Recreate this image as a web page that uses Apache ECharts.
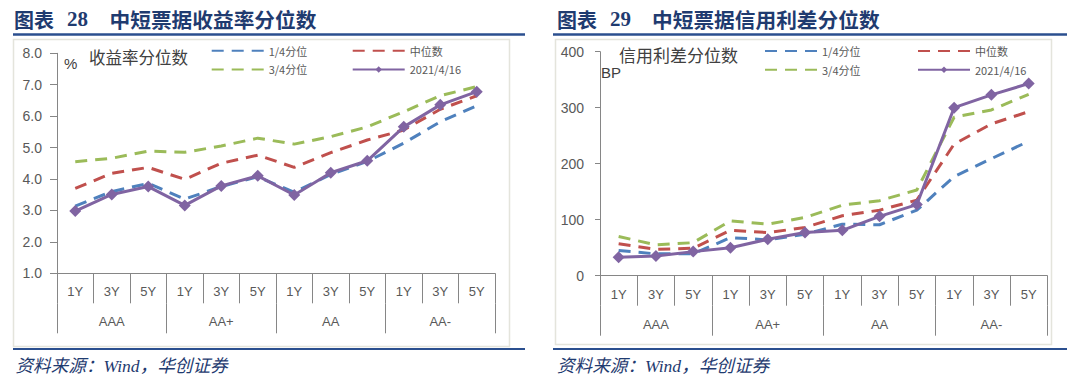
<!DOCTYPE html>
<html>
<head>
<meta charset="utf-8">
<script src="https://cdn.jsdelivr.net/npm/echarts@6/dist/echarts.min.js"></script>
<style>
html,body{margin:0;padding:0;background:#fff;}
#c{width:1080px;height:381px;}
</style>
</head>
<body>
<div id="c"></div>
<script>
// ---- data ----
const categories = ['1Y','3Y','5Y','1Y','3Y','5Y','1Y','3Y','5Y','1Y','3Y','5Y'];
const groups = ['AAA','AA+','AA','AA-'];
const seriesNames = ['1/4分位','中位数','3/4分位','2021/4/16'];

const yieldQ1  = [3.14,3.60,3.86,3.36,3.76,4.07,3.58,4.14,4.56,5.14,5.82,6.33];
const yieldMed = [3.70,4.18,4.37,3.99,4.50,4.76,4.37,4.84,5.24,5.56,6.22,6.65];
const yieldQ3  = [4.55,4.66,4.89,4.85,5.05,5.30,5.11,5.35,5.66,6.14,6.65,6.94];
const yieldNow = [2.98,3.51,3.76,3.16,3.78,4.10,3.49,4.20,4.58,5.66,6.36,6.78];

const spreadQ1  = [45,39,39,68,64,74,92,91,117,177,209,240];
const spreadMed = [57,47,49,81,77,86,107,117,135,235,271,293];
const spreadQ3  = [70,55,59,98,92,104,126,134,153,283,296,324];
const spreadNow = [33,35,43,50,65,77,81,106,127,300,323,343];

const leftTitle = ['图表','28','中短票据收益率分位数'];
const rightTitle = ['图表','29','中短票据信用利差分位数'];
const leftAxisName = '收益率分位数';
const rightAxisName = '信用利差分位数';
const sourceText = '资料来源：Wind，华创证券';

// ---- style ----
const COL = {q1:'#4F81BD', med:'#C0504D', q3:'#9BBB59', now:'#8064A2'};
const AXIS = '#868686';
const LABEL = '#595959';
const NAVY = '#1F3B70';
const FONT = "'Liberation Sans','Noto Sans CJK SC',sans-serif";
const CJK = "'Noto Sans CJK SC',sans-serif";
const DASH = [12, 8];

function dashed(name, data, color, xi, yi) {
  return {
    name, type:'line', data, xAxisIndex:xi, yAxisIndex:yi,
    symbol:'none', z:2,
    itemStyle:{color:'rgba(0,0,0,0)'},
    lineStyle:{color, width:3, type:DASH}
  };
}
function solid(name, data, xi, yi) {
  return {
    name, type:'line', data, xAxisIndex:xi, yAxisIndex:yi,
    symbol:'diamond', symbolSize:12, z:5,
    itemStyle:{color:COL.now},
    lineStyle:{color:COL.now, width:3}
  };
}
function xAxes(gridIndex) {
  return [
    {type:'category', gridIndex, data:categories, position:'bottom',
     axisLine:{lineStyle:{color:AXIS, width:1}},
     axisTick:{show:true, interval:0, length:30, lineStyle:{color:AXIS}},
     axisLabel:{interval:0, margin:12, color:LABEL, fontSize:13, fontFamily:FONT}},
    {type:'category', gridIndex, data:groups, position:'bottom', offset:30,
     axisLine:{show:false},
     axisTick:{show:true, interval:0, length:30, lineStyle:{color:AXIS}},
     axisLabel:{interval:0, margin:12, color:LABEL, fontSize:13, fontFamily:FONT}}
  ];
}
function legendPair(names, left, top, gap) {
  return {
    data:names, orient:'vertical', left, top, padding:0,
    itemWidth:52, itemHeight:8, itemGap:gap,
    textStyle:{color:LABEL, fontSize:11, fontFamily:CJK},
    selectedMode:false
  };
}
function txt(x, y, text, font, fill, extra) {
  return Object.assign({type:'text', silent:true,
    style:{x, y, text, font, fill, textVerticalAlign:'middle', verticalAlign:'middle'}}, extra||{});
}

const chart = echarts.init(document.getElementById('c'), null, {renderer:'svg'});
const option = {
  animation:false,
  backgroundColor:'#ffffff',
  grid:[
    {left:57, top:53.3, width:438, height:220},
    {left:600, top:51.7, width:447.3, height:224}
  ],
  xAxis:[...xAxes(0), ...xAxes(1)],
  yAxis:[
    {type:'value', gridIndex:0, min:1, max:8, interval:1,
     axisLine:{show:true, lineStyle:{color:AXIS}},
     axisTick:{show:true, length:7, lineStyle:{color:AXIS}},
     splitLine:{show:false},
     axisLabel:{margin:15, color:LABEL, fontSize:14, fontFamily:FONT, formatter:v=>v.toFixed(1)}},
    {type:'value', gridIndex:1, min:0, max:400, interval:100,
     axisLine:{show:true, lineStyle:{color:AXIS}},
     axisTick:{show:true, length:5, lineStyle:{color:AXIS}},
     splitLine:{show:false},
     axisLabel:{margin:16, color:LABEL, fontSize:14, fontFamily:FONT}}
  ],
  legend:[
    legendPair([seriesNames[0], seriesNames[2]], 210.7, 45.3, 7.7),
    legendPair([seriesNames[1], seriesNames[3]], 351.7, 45.3, 7.7),
    legendPair([seriesNames[0], seriesNames[2]], 764, 45.5, 7.8),
    legendPair([seriesNames[1], seriesNames[3]], 917, 45.5, 7.8)
  ],
  series:[
    dashed(seriesNames[0], yieldQ1, COL.q1, 0, 0),
    dashed(seriesNames[1], yieldMed, COL.med, 0, 0),
    dashed(seriesNames[2], yieldQ3, COL.q3, 0, 0),
    solid(seriesNames[3], yieldNow, 0, 0),
    dashed(seriesNames[0], spreadQ1, COL.q1, 2, 1),
    dashed(seriesNames[1], spreadMed, COL.med, 2, 1),
    dashed(seriesNames[2], spreadQ3, COL.q3, 2, 1),
    solid(seriesNames[3], spreadNow, 2, 1)
  ],
  graphic:[
    // frames
    {type:'rect', silent:true, z:-1, shape:{x:13.5, y:39.5, width:496, height:307}, style:{fill:'none', stroke:'#e4e4dc', lineWidth:1.5}},
    {type:'rect', silent:true, z:-1, shape:{x:555.5, y:39.5, width:496, height:305}, style:{fill:'none', stroke:'#e4e4dc', lineWidth:1.5}},
    // title underlines
    {type:'line', silent:true, shape:{x1:13, y1:34.5, x2:525, y2:34.5}, style:{stroke:'#2B4F8F', lineWidth:2.5}},
    {type:'line', silent:true, shape:{x1:553, y1:34.5, x2:1067, y2:34.5}, style:{stroke:'#2B4F8F', lineWidth:2.5}},
    // bottom lines
    {type:'line', silent:true, shape:{x1:13, y1:349, x2:525, y2:349}, style:{stroke:'#2B4F8F', lineWidth:2}},
    {type:'line', silent:true, shape:{x1:553, y1:349, x2:1067, y2:349}, style:{stroke:'#2B4F8F', lineWidth:2}},
    // titles
    txt(14, 19, leftTitle[0], "bold 20px 'Noto Sans CJK SC'", NAVY),
    txt(67, 19, leftTitle[1], "bold 21px 'Liberation Serif'", NAVY),
    txt(109.5, 19, leftTitle[2], "bold 20.7px 'Noto Sans CJK SC'", NAVY),
    txt(557, 19, rightTitle[0], "bold 20px 'Noto Sans CJK SC'", NAVY),
    txt(610, 19, rightTitle[1], "bold 21px 'Liberation Serif'", NAVY),
    txt(652, 19, rightTitle[2], "bold 20.7px 'Noto Sans CJK SC'", NAVY),
    // axis names
    txt(64, 63, '%', "15px " + FONT, '#404040'),
    txt(89, 56.5, leftAxisName, "16.5px 'Noto Sans CJK SC'", '#404040'),
    txt(619, 54, rightAxisName, "17px 'Noto Sans CJK SC'", '#404040'),
    txt(601, 72, 'BP', "15px " + FONT, '#404040'),
    // sources
    txt(15.5, 366, sourceText, "italic 17.6px 'Liberation Serif','Noto Sans CJK SC'", NAVY),
    txt(557, 366, sourceText, "italic 17.6px 'Liberation Serif','Noto Sans CJK SC'", NAVY)
  ]
};
chart.setOption(option);
</script>
</body>
</html>
